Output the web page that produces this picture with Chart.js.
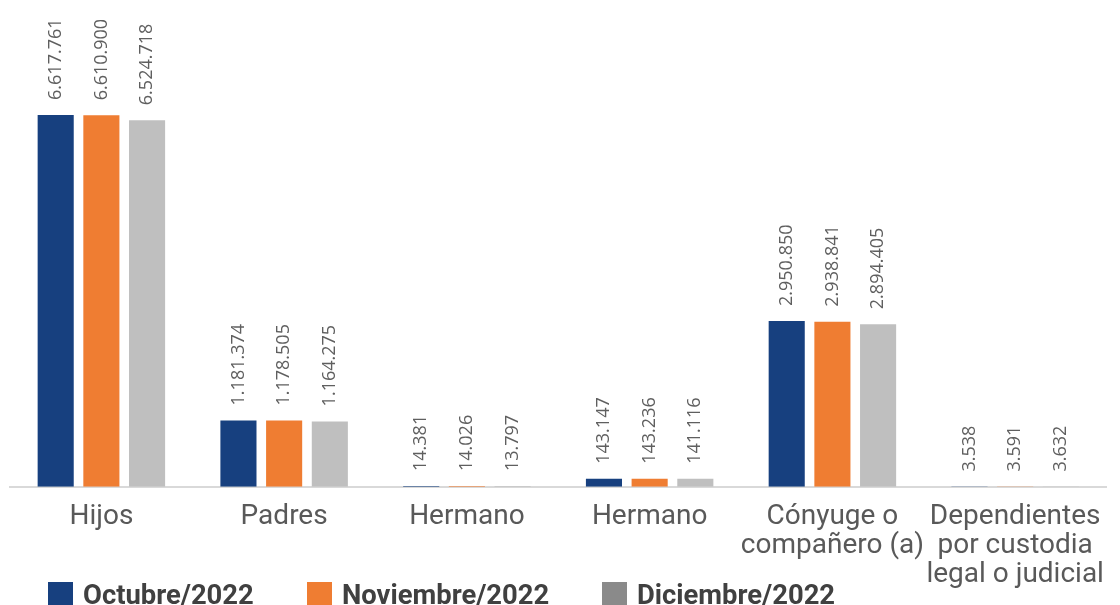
<!DOCTYPE html>
<html>
<head>
<meta charset="utf-8">
<script src="https://cdn.jsdelivr.net/npm/chart.js@4/dist/chart.umd.min.js"></script>
<style>
  html, body { margin: 0; padding: 0; background: #ffffff; }
  #wrap { position: relative; width: 1120px; height: 605px; overflow: hidden; }
  #c { position: absolute; left: 0; top: 0; }
  .lg { position: absolute; top: 582px; display: flex; align-items: flex-start; font-family: Roboto, sans-serif; font-weight: 700; font-size: 27.4px; color: #404040; line-height: 24px; white-space: nowrap; }
  .lg span.box { display: inline-block; width: 25px; height: 25px; margin-right: 10px; }
  .lg span.txt { position: relative; top: 1px; }
</style>
</head>
<body>
<div id="wrap">
  <canvas id="c" width="1120" height="605"></canvas>
</div>
<script>
const categories = [
  "Hijos",
  "Padres",
  "Hermano",
  "Hermano",
  ["Cónyuge o", "compañero (a)"],
  ["Dependientes", "por custodia", "legal o judicial"]
];
const seriesNames = ["Octubre/2022", "Noviembre/2022", "Diciembre/2022"];
const octubre = [6617761, 1181374, 14381, 143147, 2950850, 3538];
const noviembre = [6610900, 1178505, 14026, 143236, 2938841, 3591];
const diciembre = [6524718, 1164275, 13797, 141116, 2894405, 3632];
const barColors = ["#17407f", "#ef7d32", "#bfbfbf"];
const legendColors = ["#17407f", "#ef7d32", "#8a8a8a"];
const legendLeft = [48, 307, 602];

function fmt(v) {
  return String(v).replace(/\B(?=(\d{3})+(?!\d))/g, ".");
}

const labelPlugin = {
  id: "rotLabels",
  afterDatasetsDraw(chart) {
    const ctx = chart.ctx;
    ctx.save();
    ctx.font = "18px 'Open Sans'";
    ctx.fillStyle = "#5f5f5f";
    ctx.textAlign = "left";
    ctx.textBaseline = "middle";
    chart.data.datasets.forEach((ds, di) => {
      const meta = chart.getDatasetMeta(di);
      meta.data.forEach((bar, i) => {
        ctx.save();
        ctx.translate(bar.x, bar.y - 15);
        ctx.rotate(-Math.PI / 2);
        ctx.fillText(fmt(ds.data[i]), 0, 0);
        ctx.restore();
      });
    });
    ctx.restore();
  }
};

const datasets = [octubre, noviembre, diciembre].map((d, i) => ({
  label: seriesNames[i],
  data: d,
  backgroundColor: barColors[i],
  borderWidth: 0,
  categoryPercentage: 0.75,
  barPercentage: 0.79
}));

new Chart(document.getElementById("c"), {
  type: "bar",
  data: { labels: categories, datasets },
  options: {
    responsive: false,
    animation: false,
    devicePixelRatio: 1,
    layout: { padding: { left: 10, right: 13, top: 10, bottom: 0 } },
    plugins: { legend: { display: false }, tooltip: { enabled: false } },
    scales: {
      x: {
        grid: { display: false, drawTicks: false },
        border: { display: true, color: "#d9d9d9", width: 2 },
        ticks: {
          autoSkip: false,
          maxRotation: 0,
          minRotation: 0,
          padding: 15,
          color: "#595959",
          font: { family: "Roboto", size: 28, lineHeight: 1.05 }
        }
      },
      y: {
        display: false,
        min: 0,
        max: 8485700
      }
    }
  },
  plugins: [labelPlugin]
});

const wrap = document.getElementById("wrap");
seriesNames.forEach((n, i) => {
  const d = document.createElement("div");
  d.className = "lg";
  d.style.left = legendLeft[i] + "px";
  d.innerHTML = '<span class="box" style="background:' + legendColors[i] + '"></span><span class="txt">' + n + '</span>';
  wrap.appendChild(d);
});
</script>
</body>
</html>
